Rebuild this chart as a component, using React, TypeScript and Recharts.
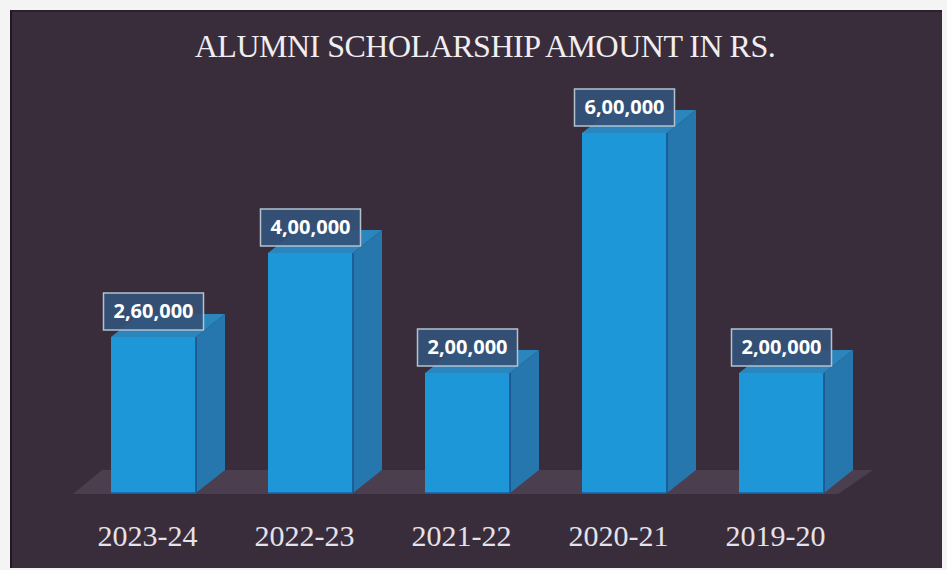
import React from "react";
import { BarChart, Bar, XAxis, YAxis, LabelList, ReferenceLine } from "recharts";

const years = ["2023-24", "2022-23", "2021-22", "2020-21", "2019-20"];
const amounts = [260000, 400000, 200000, 600000, 200000];

const data = years.map((year, i) => ({ year, amount: amounts[i] }));

const DEPTH_X = 29;
const DEPTH_Y = 23;
const AXIS_H = 77;
const chartMargin = { top: 73, right: 87, bottom: 0, left: 75 };

// Indian digit grouping: 2,60,000
function formatRs(v: number) {
  const s = String(Math.round(v));
  if (s.length <= 3) return s;
  const last3 = s.slice(-3);
  let rest = s.slice(0, -3);
  const parts: string[] = [];
  while (rest.length > 2) {
    parts.unshift(rest.slice(-2));
    rest = rest.slice(0, -2);
  }
  if (rest) parts.unshift(rest);
  return parts.join(",") + "," + last3;
}

function Bar3D(props: any) {
  const { x, y, width, height } = props;
  if (height <= 0) return null;
  const r = x + width;
  const b = y + height;
  return (
    <g>
      <polygon
        points={`${x},${y} ${x + DEPTH_X},${y - DEPTH_Y} ${r + DEPTH_X},${y - DEPTH_Y} ${r},${y}`}
        fill="#2a86bd"
      />
      <polygon
        points={`${r},${y} ${r + DEPTH_X},${y - DEPTH_Y} ${r + DEPTH_X},${b - DEPTH_Y} ${r},${b}`}
        fill="#2677ad"
      />
      <rect x={x} y={y} width={width} height={height} fill="#1d97d7" />
      <line x1={r} y1={y} x2={r} y2={b} stroke="#1d4f8c" strokeWidth={1.5} />
      <line x1={x} y1={b} x2={r} y2={b} stroke="#1d5fa0" strokeWidth={1.5} />
    </g>
  );
}

// floor under the bars, drawn from the y=0 reference line
function Floor(props: any) {
  const { x1, x2, y1 } = props;
  const left = x1 - 2;
  const right = x2 - 22;
  return (
    <polygon
      points={`${left},${y1 + 1} ${right},${y1 + 1} ${right + DEPTH_X + 6},${y1 - DEPTH_Y} ${left + DEPTH_X},${y1 - DEPTH_Y}`}
      fill="#4a3e4f"
    />
  );
}

function ValueBox(props: any) {
  const { x, y, width, value } = props;
  const cx = x + width / 2;
  const bw = 100;
  const bh = 37;
  const by = y - 7 - bh;
  return (
    <g>
      <rect
        x={cx - bw / 2}
        y={by}
        width={bw}
        height={bh}
        fill="#34527a"
        fillOpacity={0.92}
        stroke="#b4c1cf"
        strokeWidth={1.5}
      />
      <text
        x={cx}
        y={by + bh / 2 + 1}
        textAnchor="middle"
        dominantBaseline="middle"
        fill="#ffffff"
        fontFamily="'Open Sans', sans-serif"
        fontWeight={700}
        fontSize={20}
      >
        {formatRs(value)}
      </text>
    </g>
  );
}

function YearTick(props: any) {
  const { x, y, payload } = props;
  return (
    <text
      x={x - 6}
      y={y + 45}
      textAnchor="middle"
      fill="#e4e2ea"
      fontFamily="'Liberation Serif', 'Times New Roman', serif"
      fontSize={30}
    >
      {payload.value}
    </text>
  );
}

export default function App() {
  return (
    <div style={{ position: "absolute", left: 0, top: 0, width: 947, height: 570, background: "#f4f4f4" }}>
      <div
        style={{
          position: "absolute",
          left: 10,
          top: 10,
          width: 932,
          height: 558,
          background: "#3a2d3b",
          boxSizing: "border-box",
          borderLeft: "2px solid #1e1820",
          borderTop: "2px solid #2a2130",
        }}
      />
      <div
        style={{
          position: "absolute",
          left: 0,
          top: 26,
          width: 970,
          textAlign: "center",
          color: "#f0eef2",
          fontFamily: "'Liberation Serif', 'Times New Roman', serif",
          fontSize: 32,
          lineHeight: "40px",
          letterSpacing: -0.5,
        }}
      >
        ALUMNI SCHOLARSHIP AMOUNT IN RS.
      </div>
      {/* floor layer */}
      <div style={{ position: "absolute", left: 0, top: 0 }}>
        <BarChart
          width={947}
          height={570}
          data={data}
          margin={{ ...chartMargin, bottom: AXIS_H }}
          barSize={85}
        >
          <XAxis dataKey="year" hide />
          <YAxis hide domain={[0, 700000]} />
          <Bar dataKey="amount" fill="none" isAnimationActive={false} />
          <ReferenceLine y={0} shape={<Floor />} />
        </BarChart>
      </div>
      {/* bars layer */}
      <div style={{ position: "absolute", left: 0, top: 0 }}>
        <BarChart width={947} height={570} data={data} margin={chartMargin} barSize={85}>
          <XAxis
            dataKey="year"
            axisLine={false}
            tickLine={false}
            height={AXIS_H}
            interval={0}
            tick={<YearTick />}
          />
          <YAxis hide domain={[0, 700000]} />
          <Bar dataKey="amount" shape={<Bar3D />} isAnimationActive={false}>
            <LabelList dataKey="amount" content={<ValueBox />} />
          </Bar>
        </BarChart>
      </div>
    </div>
  );
}
